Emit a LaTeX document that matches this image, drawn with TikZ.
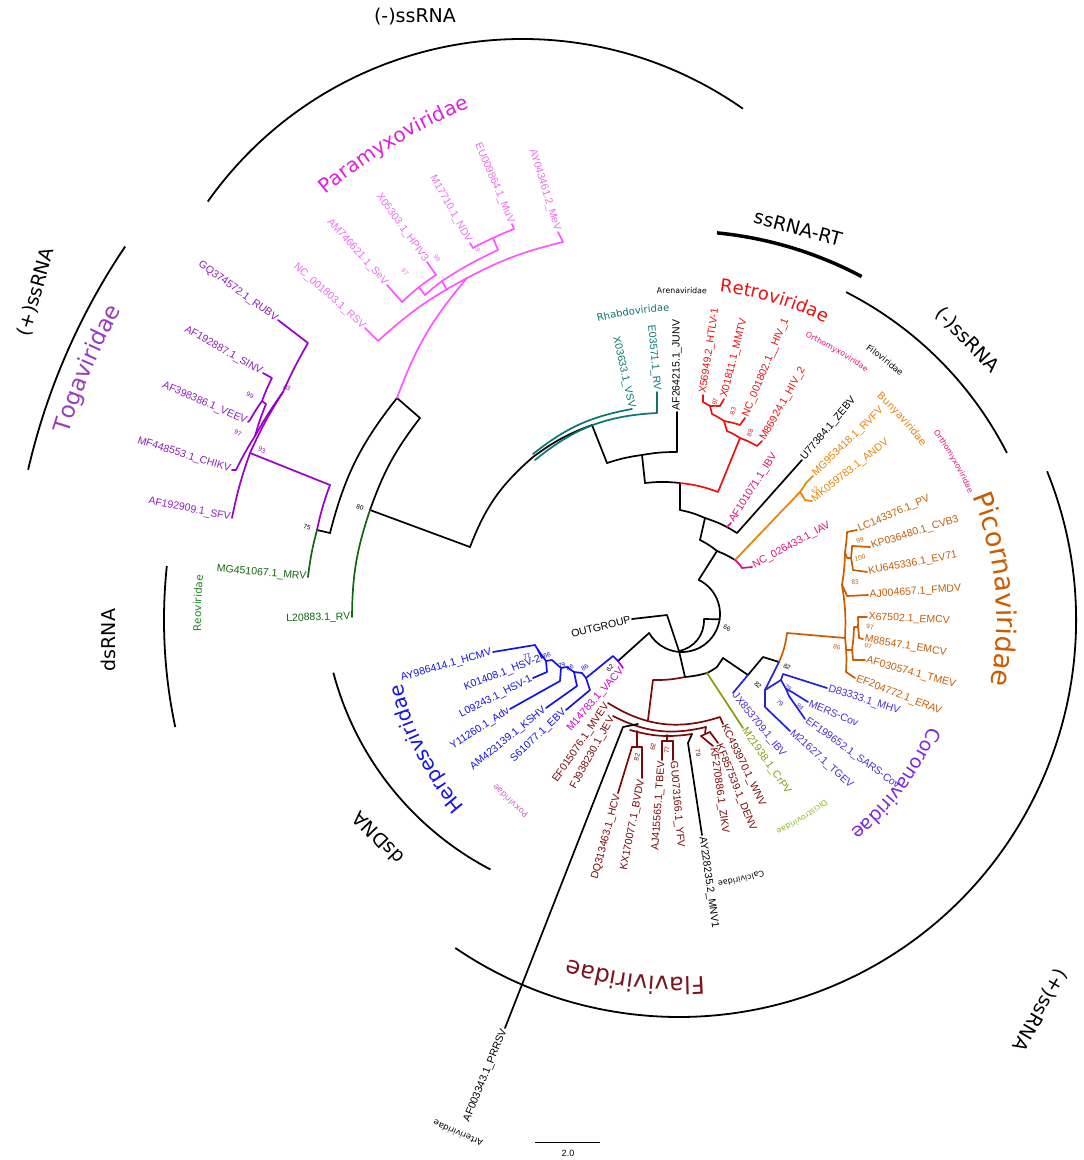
\documentclass[tikz,border=0pt]{standalone}
\usepackage{fontspec}
\setmainfont{Liberation Sans}
\newfontfamily\famfont{DejaVu Sans}
\usetikzlibrary{calc,decorations.text}
\definecolor{cPara}{HTML}{FF55FF}
\definecolor{cParaT}{HTML}{EE6CEE}
\definecolor{cParaF}{HTML}{DD22DD}
\definecolor{cToga}{HTML}{9900CC}
\definecolor{cTogaT}{HTML}{8E1FB8}
\definecolor{cTogaF}{HTML}{9B3CBF}
\definecolor{cReo}{HTML}{116611}
\definecolor{cReoF}{HTML}{228822}
\definecolor{cRhab}{HTML}{0E7474}
\definecolor{cRetro}{HTML}{EE1111}
\definecolor{cOrtho}{HTML}{E0107A}
\definecolor{cBunya}{HTML}{F08000}
\definecolor{cBunyaT}{HTML}{E8820A}
\definecolor{cPico}{HTML}{CC5C00}
\definecolor{cPicoT}{HTML}{C0600A}
\definecolor{cCorB}{HTML}{2222DD}
\definecolor{cCorT}{HTML}{4A2FD0}
\definecolor{cCorF}{HTML}{7A2AE0}
\definecolor{cDici}{HTML}{8C9A10}
\definecolor{cDiciF}{HTML}{88BB22}
\definecolor{cFlavi}{HTML}{7A0A0A}
\definecolor{cFlaviF}{HTML}{7A1520}
\definecolor{cHerp}{HTML}{1414E6}
\definecolor{cPox}{HTML}{CC00CC}
\definecolor{cPoxF}{HTML}{D060D0}
\tikzset{
 br/.style={line width=1.7pt,line cap=round,line join=round},
 cwb/.style={bend left=#1}, ccwb/.style={bend right=#1},
 tipl/.style={font=\fontsize{10.5}{12}\selectfont,inner sep=1.5pt},
 bsl/.style={font=\fontsize{6.5}{7}\selectfont,inner sep=0pt},
 grp/.style={line width=1.8pt},
 glab/.style={font=\famfont\fontsize{19}{20}\selectfont,inner sep=0pt},
}
\newcommand\tipR[3]{\path let \p1=($(#1)-(Lc)$), \n1={atan2(\y1,\x1)} in node[tipl,text=#3,rotate=\n1,anchor=west] at (#1) {#2};}
\newcommand\tipL[3]{\path let \p1=($(#1)-(Lc)$), \n1={atan2(\y1,\x1)+180} in node[tipl,text=#3,rotate=\n1,anchor=east] at (#1) {#2};}
\newcommand\tipRx[4]{\node[tipl,text=#3,rotate=#4,anchor=west] at (#1) {#2};}
\newcommand\tipLx[4]{\node[tipl,text=#3,rotate=#4,anchor=east] at (#1) {#2};}
\newcommand\bsv[4]{\path let \p1=($(#1,#2)-(Lc)$), \n1={atan2(\y1,\x1)}, \n2={abs(\n1)>90 ? \n1+180 : \n1} in node[bsl,text=#4,rotate=\n2] at (#1,#2) {#3};}
\newcommand\curv[6]{\path[decorate,decoration={text along path,text align=center,text color=#5,text={|\famfont\fontsize{#4}{#4}\selectfont|#6}}] (Cg) ++({-(#2+#3)}:#1) arc[start angle={-(#2+#3)},end angle={-(#2-#3)},radius=#1];}
\newcommand\garc[5][grp]{\draw[#1] (#2) ++({-(#4)}:#3) arc[start angle={-(#4)},end angle={-(#5)},radius=#3];}
\begin{document}
\begin{tikzpicture}[x=1pt,y=-1pt]
\fill[white] (0,0) rectangle (1084,1160);
\useasboundingbox (0,0) rectangle (1084,1160);
\coordinate (Lc) at (677,608);
\coordinate (Cg) at (679,620);
\coordinate (O) at (682,614);
\coordinate (Cd) at (635,593);
\coordinate (Ct) at (522,424);

% ---------- core ----------
\draw[br] (O) ++(-64:38) coordinate (s5) arc[start angle=-64,end angle=150,radius=38] coordinate (sh);
\draw[br] (O) ++(8:38) coordinate (s66) -- (704,619) coordinate (i66) to[cwb=40] (679,651) coordinate (sb);
\draw[br] (sb) -- (667,615) -- (632,619) coordinate (tOUT);
\draw[br] (sh) -- (618,661) coordinate (hp);
\draw[br] (sb) -- (685,677) coordinate (Ln);
\draw[br,cFlavi] (Ln) to[cwb=6] (653,680) -- (648,720) coordinate (FR);
\draw[br] (Ln) to[ccwb=5] (707,673) coordinate (jCr) to[ccwb=4] (717,667) -- (723,658) -- (748,675) coordinate (c82a) -- (763,657) -- (779,662) coordinate (nd82);
\draw[br,cDici] (jCr) -- (743,728) coordinate (tCrPV);

% ---------- upper backbone ----------
\coordinate (r5) at (717,551);
\draw[br] (s5) -- (r5);
\draw[br] (r5) to[ccwb=6] (700,540) coordinate (j4);
\draw[br] (r5) to[cwb=5] (735,560) coordinate (B0);
\draw[br] (j4) -- (705,518) coordinate (R4);
\draw[br] (R4) to[ccwb=6] (680,510) coordinate (j3);
\draw[br] (R4) to[cwb=7] (737,533) coordinate (jZ);
\draw[br] (jZ) -- (802,460) coordinate (tZEBV);
\draw[br,cOrtho] (727,527) -- (731,523) coordinate (tIBVo);
\draw[br] (j3) -- (680,483) coordinate (R3);
\draw[br] (R3) to[ccwb=6] (645,483) coordinate (j2);
\draw[br,cRetro] (R3) to[cwb=7] (718,492) -- (740,438) coordinate (n88r);
\draw[br] (j2) -- (642,455) coordinate (R2);
\draw[br] (R2) to[ccwb=5] (607,463) coordinate (j1);
\draw[br] (R2) to[cwb=5] (677,452) -- (677,412) coordinate (tJUNV);
\draw[br] (j1) -- (592,425) coordinate (R1);
\draw[br] (R1) to[ccwb=8] (533,457) coordinate (jRh) to[ccwb=14] (470,547) coordinate (j80);
\draw[br,cRhab] (533,454) to[cwb=14] (632,409) coordinate (tVSV);
\draw[br,cRhab] (535,460) to[cwb=18] (657,413) -- (657,392) coordinate (tRV);
\draw[br] (j80) -- (370,510) coordinate (N80);
\draw[br] (N80) to[cwb=9] (420,418) coordinate (jN);
\draw[br,cReo] (N80) to[ccwb=9] (352,617) coordinate (tL2088);
\draw[br] (jN) -- (397,398) coordinate (N);
\draw[br] (N) to[ccwb=12] (330,533) coordinate (j75);
\draw[br,cPara] (N) to[cwb=10] (467,278) coordinate (pR);
\draw[br] (j75) -- (317,530) coordinate (n75);
\draw[br,cToga] (n75) to[cwb=4] (330,485) coordinate (jT);
\draw[br,cReo] (n75) to[ccwb=4] (308,577) coordinate (tMRV);
\draw[br,cToga] (jT) -- (250,453) coordinate (T93);

% ---------- Togaviridae ----------
\draw[br,cToga] (T93) to[ccwb=4] (232,518) coordinate (tSFV);
\draw[br,cToga] (T93) to[cwb=4] (283,392) coordinate (n83t);
\draw[br,cToga] (n83t) to[cwb=3] (308,343) -- (278,320) coordinate (tRUBV);
\draw[br,cToga] (n83t) to[ccwb=3] (255,436) coordinate (n97t);
\draw[br,cToga] (n97t) to[ccwb=3] (236,470) -- (232,470) coordinate (tCHIKV);
\draw[br,cToga] (n97t) to[cwb=3] (266,404) -- (262,401) coordinate (n99t);
\draw[br,cToga] (n99t) to[cwb=3] (272,378) -- (263,373) coordinate (tSINV);
\draw[br,cToga] (n99t) to[ccwb=3] (250,420) -- (248,422) coordinate (tVEEV);

% ---------- Paramyxoviridae ----------
\draw[br,cPara] (pR) to[ccwb=7] (378,341) -- (365,328) coordinate (tRSV);
\draw[br,cPara] (pR) to[cwb=7] (563,242) -- (558,232) coordinate (tMeV);
\draw[br,cPara] (447,290) -- (442,281) coordinate (n98p);
\draw[br,cPara] (n98p) to[ccwb=2] (425,295) -- (419,287) coordinate (n97p);
\draw[br,cPara] (n97p) to[ccwb=2] (402,302) -- (387,285) coordinate (tSeV);
\draw[br,cPara] (n97p) to[cwb=2] (436,275) -- (427,262) coordinate (tHPIV3);
\draw[br,cPara] (n98p) to[cwb=4] (498,250) -- (493,238) coordinate (n79p);
\draw[br,cPara] (n79p) to[ccwb=2] (473,248) -- (470,243) coordinate (tNDV);
\draw[br,cPara] (n79p) to[cwb=2] (514,229) -- (512,224) coordinate (tMuV);

% ---------- Retroviridae ----------
\draw[br,cRetro] (n88r) to[ccwb=5] (727,431) -- (724,421) coordinate (n83r);
\draw[br,cRetro] (n88r) to[cwb=5] (757,446) -- (762,441) coordinate (tHIV2);
\draw[br,cRetro] (n83r) to[ccwb=4] (712,414) -- (710,406) coordinate (n97r);
\draw[br,cRetro] (n83r) to[cwb=4] (740,425) -- (745,418) coordinate (tHIV1);
\draw[br,cRetro] (n97r) to[ccwb=3] (703,402) -- (703,395) coordinate (tHTLV);
\draw[br,cRetro] (n97r) to[cwb=3] (720,406) -- (724,399) coordinate (tMMTV);

% ---------- Bunya / IAV ----------
\draw[br,cBunya] (B0) -- (800,492) coordinate (Bn);
\draw[br,cOrtho] (B0) to[cwb=8] (742,568) -- (752,567) coordinate (tIAV);
\draw[br,cBunya] (Bn) to[ccwb=3] (806,483) -- (813,476) coordinate (tRVFV);
\draw[br,cBunya] (Bn) to[cwb=3] (805,500) -- (812,501) coordinate (tANDV);

% ---------- Picornaviridae ----------
\draw[br,cPico] (nd82) to[ccwb=8] (787,633) -- (845,638) coordinate (P86);
\draw[br,cPico] (P86) to[ccwb=6] (842,585) coordinate (q83);
\draw[br,cPico] (P86) to[cwb=5] (846,672) -- (855,678) coordinate (tERAV);
\draw[br,cPico] (846,650) -- (852,650) coordinate (q97b);
\draw[br,cPico] (q97b) to[ccwb=3] (854,627) -- (858,627) coordinate (q97a);
\draw[br,cPico] (q97a) to[ccwb=3] (858,617) -- (867,617) coordinate (tEMCV1);
\draw[br,cPico] (q97a) to[cwb=3] (859,638) -- (863,639) coordinate (tEMCV2);
\draw[br,cPico] (q97b) to[cwb=3] (853,660) -- (865,660) coordinate (tTMEV);
\draw[br,cPico] (q83) to[cwb=3] (847,596) -- (868,595) coordinate (tFMDV);
\draw[br,cPico] (q83) to[ccwb=4] (845,552) coordinate (q99);
\draw[br,cPico] (q99) to[ccwb=3] (847,532) -- (857,530) coordinate (tPV);
\draw[br,cPico] (q99) to[cwb=2] (847,558) -- (851,558) coordinate (q100);
\draw[br,cPico] (q100) to[ccwb=2] (852,546) -- (870,547) coordinate (tCVB3);
\draw[br,cPico] (q100) to[cwb=2] (853,570) -- (867,572) coordinate (tEV71);

% ---------- Coronaviridae ----------
\draw[br,cCorB] (c82a) -- (733,693) coordinate (tIBVc);
\draw[br,cCorB] (nd82) -- (765,690) coordinate (c79);
\draw[br,cCorB] (c79) -- (765,707) -- (790,731) coordinate (tTGEV);
\draw[br,cCorB] (c79) -- (781,680) coordinate (c78);
\draw[br,cCorB] (c78) -- (783,674) -- (827,688) coordinate (tMHV);
\draw[br,cCorB] (c78) -- (786,689) coordinate (c84);
\draw[br,cCorB] (c84) -- (792,692) -- (808,702) coordinate (tMERS);
\draw[br,cCorB] (c84) -- (789,696) -- (805,719) coordinate (tSARS);

% ---------- Herpes / Pox ----------
\draw[br,cPox] (hp) -- (623,668) coordinate (tVACV);
\draw[br,cHerp] (hp) -- (613,656) -- (586,678) coordinate (h86a);
\draw[br,cHerp] (h86a) -- (590,690) -- (566,710) coordinate (tEBV);
\draw[br,cHerp] (h86a) -- (582,673) -- (574,672) coordinate (h86b);
\draw[br,cHerp] (h86b) -- (577,686) -- (546,708) coordinate (tKSHV);
\draw[br,cHerp] (h86b) -- (567,667) -- (561,668) coordinate (h79);
\draw[br,cHerp] (h79) -- (560,681) -- (510,709) coordinate (tAdv);
\draw[br,cHerp] (h79) -- (552,660) -- (546,661) coordinate (h66);
\draw[br,cHerp] (h66) -- (547,672) -- (533,678) coordinate (tHSV1);
\draw[br,cHerp] (h66) -- (538,650) coordinate (h77);
\draw[br,cHerp] (h77) -- (535,645) -- (493,652) coordinate (tHCMV);
\draw[br,cHerp] (h77) -- (541,656) -- (542,658) coordinate (tHSV2);

% ---------- Flaviviridae ----------
\draw[br,cFlavi] (608,703) coordinate (tMVEV) to[ccwb=25] (720,717) coordinate (a1r) -- (723,724) coordinate (tWNV);
\draw[br,cFlavi] (613,716) coordinate (tJEV) to[ccwb=20] (706,727) coordinate (a2r);
\draw[br,cFlavi] (630,730) coordinate (a3l) to[ccwb=12] (692,734) coordinate (a3r);
\draw[br,cFlavi] (637,731) -- (637,747) coordinate (f82);
\draw[br,cFlavi] (632,747) -- (642,747);
\draw[br,cFlavi] (632,747) -- (618,793) coordinate (tHCV);
\draw[br,cFlavi] (642,747) -- (642,778) coordinate (tBVDV);
\draw[br,cFlavi] (667,735) -- (667,741) coordinate (f77);
\draw[br,cFlavi] (662,741) -- (673,741);
\draw[br,cFlavi] (662,741) -- (662,760) coordinate (tTBEV);
\draw[br,cFlavi] (673,741) -- (673,760) coordinate (tYFV);
\draw[br,cFlavi] (a2r) -- (705,733) coordinate (f79);
\draw[br,cFlavi] (701,736) -- (710,732);
\draw[br,cFlavi] (701,736) -- (713,746) coordinate (tZIKV);
\draw[br,cFlavi] (710,732) -- (718,743) coordinate (tDENV);
\draw[br] (a3r) -- (688,743) -- (702,835) coordinate (tMNV);
\draw[br] (638,724) -- (623,727) -- (505,1028) coordinate (tPRRSV);

% ---------- tip labels ----------
\tipL{tRSV}{NC\_001803.1\_RSV}{cParaT}
\tipL{tSeV}{AM746621.1\_SeV}{cParaT}
\tipL{tHPIV3}{X05303.1\_HPIV3}{cParaT}
\tipL{tNDV}{M17710.1\_NDV}{cParaT}
\tipL{tMuV}{EU009864.1\_MuV}{cParaT}
\tipL{tMeV}{AY043461.2\_MeV}{cParaT}
\tipL{tRUBV}{GQ374572.1\_RUBV}{cTogaT}
\tipL{tSINV}{AF192887.1\_SINV}{cTogaT}
\tipL{tVEEV}{AF398386.1\_VEEV}{cTogaT}
\tipL{tCHIKV}{MF448553.1\_CHIKV}{cTogaT}
\tipL{tSFV}{AF192909.1\_SFV}{cTogaT}
\tipL{tMRV}{MG451067.1\_MRV}{cReo}
\tipL{tL2088}{L20883.1\_RV}{cReo}
\tipL{tVSV}{X03633.1\_VSV}{cRhab}
\tipL{tRV}{E03571.1\_RV}{cRhab}
\tipR{tJUNV}{AF264215.1\_JUNV}{black}
\tipRx{tHTLV}{X56949.2\_HTLV-1}{cRetro}{81.6}
\tipRx{tMMTV}{X01811.1\_MMTV}{cRetro}{76}
\tipRx{tHIV1}{NC\_001802.1\_\_HIV\_1}{cRetro}{67.5}
\tipRx{tHIV2}{M86924.1\_HIV\_2}{cRetro}{60.5}
\tipR{tIBVo}{AF101071.1\_IBV}{cOrtho}
\tipR{tZEBV}{U77384.1\_ZEBV}{black}
\tipR{tRVFV}{MG953418.1\_RVFV}{cBunyaT}
\tipR{tANDV}{MK059783.1\_ANDV}{cBunyaT}
\tipR{tIAV}{NC\_026433.1\_IAV}{cOrtho}
\tipR{tPV}{LC143376.1\_PV}{cPicoT}
\tipR{tCVB3}{KP036480.1\_CVB3}{cPicoT}
\tipR{tEV71}{KU645336.1\_EV71}{cPicoT}
\tipR{tFMDV}{AJ004657.1\_FMDV}{cPicoT}
\tipR{tEMCV1}{X67502.1\_EMCV}{cPicoT}
\tipR{tEMCV2}{M88547.1\_EMCV}{cPicoT}
\tipR{tTMEV}{AF030574.1\_TMEV}{cPicoT}
\tipR{tERAV}{EF204772.1\_ERAV}{cPicoT}
\tipRx{tMHV}{D83333.1\_MHV}{cCorT}{-18}
\tipRx{tMERS}{MERS-Cov}{cCorT}{-23}
\tipRx{tSARS}{EF199652.1\_SARS-Cov}{cCorT}{-36}
\tipRx{tTGEV}{M21627.1\_TGEV}{cCorT}{-42}
\tipRx{tIBVc}{JX853709.1\_IBV}{cCorT}{-51}
\tipRx{tCrPV}{M21938.1\_CrPV}{cDici}{-55}
\tipLx{tMVEV}{EF015076.1\_MVEV}{cFlavi}{56}
\tipLx{tJEV}{FJ938230.1\_JEV}{cFlavi}{61}
\tipLx{tHCV}{DQ313463.1\_HCV}{cFlavi}{75}
\tipLx{tBVDV}{KX170077.1\_BVDV}{cFlavi}{79}
\tipLx{tTBEV}{AJ415565.1\_TBEV}{cFlavi}{86}
\tipRx{tYFV}{GU073166.1\_YFV}{cFlavi}{-85}
\tipRx{tZIKV}{KF270886.1\_ZIKV}{cFlavi}{-82}
\tipRx{tDENV}{KF857539.1\_DENV}{cFlavi}{-68}
\tipRx{tWNV}{KC493970.1\_WNV}{cFlavi}{-64}
\tipRx{tMNV}{AY228235.2\_MNV1}{black}{-82}
\tipL{tPRRSV}{AF003343.1\_PRRSV}{black}
\tipLx{tHCMV}{AY986414.1\_HCMV}{cHerp}{16}
\tipLx{tHSV2}{K01408.1\_HSV-2}{cHerp}{21}
\tipLx{tHSV1}{L09243.1\_HSV-1}{cHerp}{27}
\tipLx{tAdv}{Y11260.1\_Adv}{cHerp}{33}
\tipLx{tKSHV}{AM423139.1\_KSHV}{cHerp}{39}
\tipLx{tEBV}{S61077.1\_EBV}{cHerp}{43}
\tipLx{tVACV}{M14783.1\_VACV}{cPox}{49}
\tipL{tOUT}{OUTGROUP}{black}

% ---------- bootstrap values ----------
\bsv{405}{272}{97}{cParaT}\bsv{437}{258}{98}{cParaT}\bsv{477}{248}{79}{cParaT}
\bsv{250}{395}{99}{cToga}\bsv{238}{433}{97}{cToga}\bsv{287}{388}{83}{cToga}\bsv{262}{450}{93}{cToga}
\bsv{307}{527}{75}{black}\bsv{360}{507}{80}{black}
\bsv{715}{402}{97}{cRetro}\bsv{733}{411}{83}{cRetro}\bsv{750}{433}{88}{cRetro}
\bsv{815}{490}{92}{cBunyaT}
\bsv{860}{540}{99}{cPicoT}\bsv{860}{558}{100}{cPicoT}\bsv{855}{582}{83}{cPicoT}\bsv{870}{627}{97}{cPicoT}\bsv{868}{646}{97}{cPicoT}\bsv{837}{647}{86}{cPicoT}
\bsv{727}{628}{66}{black}
\bsv{787}{667}{82}{black}\bsv{758}{685}{82}{black}\bsv{788}{688}{78}{cCorT}\bsv{780}{703}{79}{cCorT}\bsv{800}{707}{84}{cCorT}
\bsv{527}{656}{77}{cHerp}\bsv{547}{655}{66}{cHerp}\bsv{562}{665}{79}{cHerp}\bsv{570}{668}{86}{cHerp}\bsv{585}{668}{86}{cHerp}\bsv{610}{668}{62}{black}
\bsv{637}{757}{82}{cFlavi}\bsv{653}{747}{62}{cFlavi}\bsv{667}{750}{77}{cFlavi}\bsv{698}{753}{79}{cFlavi}

% ---------- family labels ----------
\curv{553}{121}{14}{20}{cParaF}{Paramyxoviridae}
\curv{638}{157}{10}{23}{cTogaF}{Togaviridae}
\curv{478}{178}{6}{10.5}{cReoF}{Reoviridae}
\curv{309}{98.5}{12}{10}{cRhab}{Rhabdoviridae}
\curv{327}{89.5}{8}{7.8}{black}{Arenaviridae}
\curv{331}{73.4}{20}{18}{cRetro}{Retroviridae}
\curv{310}{59.5}{12}{7.8}{cOrtho}{Orthomyxoviridae}
\curv{329}{51.6}{8}{8.5}{black}{Filoviridae}
\curv{298}{42}{12}{10.2}{cBunyaT}{Bunyaviridae}
\curv{316}{30}{12}{7.8}{cOrtho}{Orthomyxoviridae}
\curv{318}{5.5}{25}{27}{cPico}{Picornaviridae}
\curv{272}{-37}{22}{19}{cCorF}{Coronaviridae}
\curv{231}{-58}{12}{8}{cDiciF}{Dicistroviridae}
\curv{264}{-76.5}{10}{8}{black}{Calciviridae}
\curv{357}{-97}{18}{24}{cFlaviF}{Flaviviridae}
\curv{284}{-153}{22}{20}{cHerp}{Herpesviridae}
\curv{245}{-133}{10}{8.5}{cPoxF}{Poxviridae}
\curv{556}{-113.3}{5}{8.5}{black}{Arteriviridae}

% ---------- group arcs and labels ----------
\garc{Cg}{668}{167}{146}
\garc{Ct}{385}{144.7}{55}
\garc[line width=3.5pt]{Cg}{389}{84.4}{62}
\garc{Cg}{368}{63}{27}
\garc{Cg}{397}{22}{-124.3}
\garc{Cg}{515}{192}{174}
\garc{Cd}{312}{-117.6}{-165.2}
\node[glab] (gTop) at (415,17) {(-)ssRNA};
\node[glab,rotate=74] (gLeft) at (36,292) {(+)ssRNA};
\node[glab,rotate=-15] (gRT) at (798,228) {ssRNA-RT};
\node[glab,rotate=-46] (gRight) at (967,340) {(-)ssRNA};
\node[glab,rotate=-120] (gPlus) at (1040,1010) {(+)ssRNA};
\node[glab,rotate=90] (gds) at (108,640) {dsRNA};
\node[glab,rotate=134] (gdsd) at (378,838) {dsDNA};

% ---------- scale bar ----------
\draw[line width=0.8pt] (535,1142) coordinate (sb1) -- (600,1142) coordinate (sb2);
\node[font=\fontsize{9}{10}\selectfont] (sbl) at (568,1153) {2.0};
\end{tikzpicture}
\end{document}
